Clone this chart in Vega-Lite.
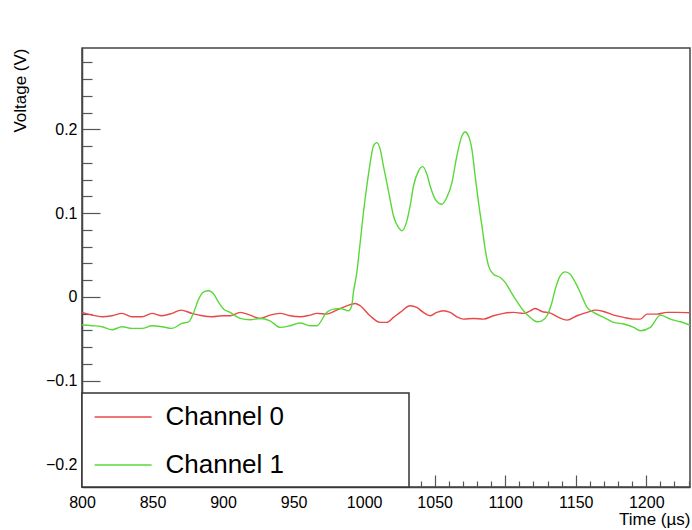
{
  "$schema": "https://vega.github.io/schema/vega-lite/v6.json",
  "width": 608,
  "height": 439,
  "autosize": {"type": "none"},
  "padding": {"left": 82, "top": 48, "right": 2, "bottom": 43},
  "background": "white",
  "config": {"font": "Liberation Sans", "view": {"stroke": "#444", "strokeWidth": 1.5}, "legend": {"strokeWidth": 1.5}},
  "data": {"values": [
    {"ch":"Channel 0","t":800,"v":-0.0186},{"ch":"Channel 0","t":803,"v":-0.020},{"ch":"Channel 0","t":807.1,"v":-0.0218},{"ch":"Channel 0","t":814.2,"v":-0.0238},{"ch":"Channel 0","t":821.3,"v":-0.0226},{"ch":"Channel 0","t":828.4,"v":-0.0198},{"ch":"Channel 0","t":835.5,"v":-0.0238},{"ch":"Channel 0","t":842.6,"v":-0.0238},{"ch":"Channel 0","t":849.6,"v":-0.0198},{"ch":"Channel 0","t":856.7,"v":-0.0226},{"ch":"Channel 0","t":863.8,"v":-0.0198},{"ch":"Channel 0","t":870.2,"v":-0.0159},{"ch":"Channel 0","t":878,"v":-0.0198},{"ch":"Channel 0","t":885.1,"v":-0.0226},{"ch":"Channel 0","t":892.2,"v":-0.0238},{"ch":"Channel 0","t":899.3,"v":-0.0226},{"ch":"Channel 0","t":905,"v":-0.0226},{"ch":"Channel 0","t":912.1,"v":-0.0186},{"ch":"Channel 0","t":919.1,"v":-0.0218},{"ch":"Channel 0","t":926.2,"v":-0.0258},{"ch":"Channel 0","t":933.3,"v":-0.0218},{"ch":"Channel 0","t":940.4,"v":-0.0198},{"ch":"Channel 0","t":947.5,"v":-0.0226},{"ch":"Channel 0","t":954.6,"v":-0.0238},{"ch":"Channel 0","t":961.7,"v":-0.0218},{"ch":"Channel 0","t":966.4,"v":-0.0198},{"ch":"Channel 0","t":973.5,"v":-0.0206},{"ch":"Channel 0","t":980.6,"v":-0.0159},{"ch":"Channel 0","t":987.7,"v":-0.0107},{"ch":"Channel 0","t":993.6,"v":-0.0079},{"ch":"Channel 0","t":997.2,"v":-0.0107},{"ch":"Channel 0","t":1004.2,"v":-0.0226},{"ch":"Channel 0","t":1011.3,"v":-0.0305},{"ch":"Channel 0","t":1016,"v":-0.0305},{"ch":"Channel 0","t":1020.8,"v":-0.0246},{"ch":"Channel 0","t":1025.5,"v":-0.0186},{"ch":"Channel 0","t":1032.6,"v":-0.0107},{"ch":"Channel 0","t":1037.3,"v":-0.0127},{"ch":"Channel 0","t":1042,"v":-0.0186},{"ch":"Channel 0","t":1046.8,"v":-0.0226},{"ch":"Channel 0","t":1051.5,"v":-0.0186},{"ch":"Channel 0","t":1056.2,"v":-0.0167},{"ch":"Channel 0","t":1060.9,"v":-0.0186},{"ch":"Channel 0","t":1065.7,"v":-0.0238},{"ch":"Channel 0","t":1070.4,"v":-0.0266},{"ch":"Channel 0","t":1077.5,"v":-0.0258},{"ch":"Channel 0","t":1084.6,"v":-0.0266},{"ch":"Channel 0","t":1091.7,"v":-0.0226},{"ch":"Channel 0","t":1098.8,"v":-0.0198},{"ch":"Channel 0","t":1105.9,"v":-0.0186},{"ch":"Channel 0","t":1113,"v":-0.0198},{"ch":"Channel 0","t":1117.7,"v":-0.0167},{"ch":"Channel 0","t":1121.3,"v":-0.0139},{"ch":"Channel 0","t":1126,"v":-0.0175},{"ch":"Channel 0","t":1132,"v":-0.0194},{"ch":"Channel 0","t":1137.9,"v":-0.0246},{"ch":"Channel 0","t":1143.8,"v":-0.0278},{"ch":"Channel 0","t":1150.9,"v":-0.0226},{"ch":"Channel 0","t":1158,"v":-0.0186},{"ch":"Channel 0","t":1163.9,"v":-0.0159},{"ch":"Channel 0","t":1169.8,"v":-0.0175},{"ch":"Channel 0","t":1176.9,"v":-0.0218},{"ch":"Channel 0","t":1184,"v":-0.0246},{"ch":"Channel 0","t":1191.1,"v":-0.0266},{"ch":"Channel 0","t":1195.8,"v":-0.0266},{"ch":"Channel 0","t":1200.5,"v":-0.0206},{"ch":"Channel 0","t":1207.6,"v":-0.0206},{"ch":"Channel 0","t":1214.7,"v":-0.0186},{"ch":"Channel 0","t":1221.8,"v":-0.0186},{"ch":"Channel 0","t":1231,"v":-0.019},
    {"ch":"Channel 1","t":800,"v":-0.0337},{"ch":"Channel 1","t":807.1,"v":-0.0345},{"ch":"Channel 1","t":814.2,"v":-0.0357},{"ch":"Channel 1","t":821.3,"v":-0.0393},{"ch":"Channel 1","t":828.4,"v":-0.0357},{"ch":"Channel 1","t":835.5,"v":-0.0377},{"ch":"Channel 1","t":842.6,"v":-0.0377},{"ch":"Channel 1","t":849.6,"v":-0.0345},{"ch":"Channel 1","t":856.7,"v":-0.0357},{"ch":"Channel 1","t":863.8,"v":-0.0377},{"ch":"Channel 1","t":870.9,"v":-0.0317},{"ch":"Channel 1","t":875.6,"v":-0.030},{"ch":"Channel 1","t":879.2,"v":-0.0186},{"ch":"Channel 1","t":882.7,"v":-0.0027},{"ch":"Channel 1","t":886.3,"v":0.006},{"ch":"Channel 1","t":889.8,"v":0.0072},{"ch":"Channel 1","t":893.4,"v":0.0032},{"ch":"Channel 1","t":896.9,"v":-0.0067},{"ch":"Channel 1","t":900.5,"v":-0.0147},{"ch":"Channel 1","t":905,"v":-0.0186},{"ch":"Channel 1","t":912.1,"v":-0.0258},{"ch":"Channel 1","t":919.1,"v":-0.0274},{"ch":"Channel 1","t":926.2,"v":-0.0258},{"ch":"Channel 1","t":933.3,"v":-0.0286},{"ch":"Channel 1","t":940.4,"v":-0.0365},{"ch":"Channel 1","t":947.5,"v":-0.0345},{"ch":"Channel 1","t":954.6,"v":-0.0313},{"ch":"Channel 1","t":961.7,"v":-0.0345},{"ch":"Channel 1","t":966.4,"v":-0.0345},{"ch":"Channel 1","t":973.5,"v":-0.0186},{"ch":"Channel 1","t":978.2,"v":-0.0147},{"ch":"Channel 1","t":983,"v":-0.0139},{"ch":"Channel 1","t":988.9,"v":-0.0167},{"ch":"Channel 1","t":991.2,"v":-0.0107},{"ch":"Channel 1","t":992.4,"v":0.0052},{"ch":"Channel 1","t":994.8,"v":0.029},{"ch":"Channel 1","t":997.2,"v":0.0648},{"ch":"Channel 1","t":999.5,"v":0.1006},{"ch":"Channel 1","t":1001.9,"v":0.1323},{"ch":"Channel 1","t":1004.3,"v":0.160},{"ch":"Channel 1","t":1006.6,"v":0.180},{"ch":"Channel 1","t":1009,"v":0.184},{"ch":"Channel 1","t":1011.4,"v":0.176},{"ch":"Channel 1","t":1013.7,"v":0.156},{"ch":"Channel 1","t":1016.1,"v":0.136},{"ch":"Channel 1","t":1018.4,"v":0.1164},{"ch":"Channel 1","t":1020.8,"v":0.0965},{"ch":"Channel 1","t":1024.4,"v":0.0827},{"ch":"Channel 1","t":1026.7,"v":0.0787},{"ch":"Channel 1","t":1030.3,"v":0.0906},{"ch":"Channel 1","t":1032.6,"v":0.1085},{"ch":"Channel 1","t":1035,"v":0.1323},{"ch":"Channel 1","t":1038.5,"v":0.150},{"ch":"Channel 1","t":1041.6,"v":0.1554},{"ch":"Channel 1","t":1044.5,"v":0.1462},{"ch":"Channel 1","t":1046.8,"v":0.1323},{"ch":"Channel 1","t":1050.4,"v":0.1164},{"ch":"Channel 1","t":1055.1,"v":0.1105},{"ch":"Channel 1","t":1058.6,"v":0.1185},{"ch":"Channel 1","t":1062.2,"v":0.136},{"ch":"Channel 1","t":1065.7,"v":0.168},{"ch":"Channel 1","t":1069.3,"v":0.192},{"ch":"Channel 1","t":1071.6,"v":0.1967},{"ch":"Channel 1","t":1074,"v":0.192},{"ch":"Channel 1","t":1076.4,"v":0.176},{"ch":"Channel 1","t":1078.7,"v":0.1442},{"ch":"Channel 1","t":1081.1,"v":0.1125},{"ch":"Channel 1","t":1083.5,"v":0.0846},{"ch":"Channel 1","t":1085.8,"v":0.0569},{"ch":"Channel 1","t":1088.2,"v":0.037},{"ch":"Channel 1","t":1091.7,"v":0.027},{"ch":"Channel 1","t":1096.5,"v":0.0231},{"ch":"Channel 1","t":1100,"v":0.0172},{"ch":"Channel 1","t":1103.6,"v":0.0072},{"ch":"Channel 1","t":1108.3,"v":-0.0055},{"ch":"Channel 1","t":1113,"v":-0.0167},{"ch":"Channel 1","t":1117.8,"v":-0.0246},{"ch":"Channel 1","t":1122.5,"v":-0.0298},{"ch":"Channel 1","t":1126,"v":-0.0286},{"ch":"Channel 1","t":1129.6,"v":-0.0226},{"ch":"Channel 1","t":1133.1,"v":-0.0067},{"ch":"Channel 1","t":1135.5,"v":0.0092},{"ch":"Channel 1","t":1139,"v":0.025},{"ch":"Channel 1","t":1142.6,"v":0.0298},{"ch":"Channel 1","t":1146.1,"v":0.027},{"ch":"Channel 1","t":1149.7,"v":0.0172},{"ch":"Channel 1","t":1153.2,"v":0.0052},{"ch":"Channel 1","t":1158,"v":-0.0126},{"ch":"Channel 1","t":1162.7,"v":-0.0186},{"ch":"Channel 1","t":1169.8,"v":-0.0246},{"ch":"Channel 1","t":1176.9,"v":-0.0305},{"ch":"Channel 1","t":1184,"v":-0.0325},{"ch":"Channel 1","t":1191.1,"v":-0.0365},{"ch":"Channel 1","t":1195.8,"v":-0.0405},{"ch":"Channel 1","t":1202.9,"v":-0.0365},{"ch":"Channel 1","t":1210,"v":-0.0218},{"ch":"Channel 1","t":1217.1,"v":-0.0266},{"ch":"Channel 1","t":1224.1,"v":-0.0298},{"ch":"Channel 1","t":1231,"v":-0.0337}
  ]},
  "mark": {"type": "line", "strokeWidth": 1.4, "interpolate": "monotone", "clip": true},
  "encoding": {
    "x": {
      "field": "t", "type": "quantitative",
      "scale": {"domain": [800, 1231], "nice": false, "zero": false},
      "axis": {
        "values": [800,810,820,830,840,850,860,870,880,890,900,910,920,930,940,950,960,970,980,990,1000,1010,1020,1030,1040,1050,1060,1070,1080,1090,1100,1110,1120,1130,1140,1150,1160,1170,1180,1190,1200,1210,1220,1230],
        "labelExpr": "datum.value % 50 == 0 ? format(datum.value, 'd') : ''",
        "labelOverlap": false, "labelBound": false, "labelFlush": false,
        "tickSize": {"condition": {"test": "datum.value % 50 == 0", "value": -12}, "value": -6},
        "labelPadding": 19,
        "grid": false,
        "domainColor": "#444", "domainWidth": 1.5,
        "tickColor": "#555", "tickWidth": 1.2,
        "labelFontSize": 16, "labelColor": "black", "labelFont": "Liberation Sans",
        "title": "Time (µs)", "titleFontSize": 17, "titleFontWeight": "normal", "titleColor": "black", "titleFont": "Liberation Sans",
        "titleAlign": "right", "titleX": 608, "titleY": 32, "titleBaseline": "middle"
      }
    },
    "y": {
      "field": "v", "type": "quantitative",
      "scale": {"domain": [-0.227, 0.297], "nice": false, "zero": false},
      "axis": {
        "values": [-0.22,-0.2,-0.18,-0.16,-0.14,-0.12,-0.1,-0.08,-0.06,-0.04,-0.02,0,0.02,0.04,0.06,0.08,0.1,0.12,0.14,0.16,0.18,0.2,0.22,0.24,0.26,0.28],
        "labelExpr": "abs(datum.value*10 - round(datum.value*10)) < 0.001 ? (abs(datum.value) < 0.001 ? '0' : format(datum.value, '.1f')) : ''",
        "labelOverlap": false, "labelBound": false, "labelFlush": false,
        "tickSize": {"condition": {"test": "abs(datum.value*10 - round(datum.value*10)) < 0.001", "value": -18}, "value": -10},
        "labelPadding": 23,
        "grid": false,
        "domainColor": "#444", "domainWidth": 1.5,
        "tickColor": "#555", "tickWidth": 1.2,
        "labelFontSize": 16, "labelColor": "black", "labelFont": "Liberation Sans",
        "title": "Voltage (V)", "titleFontSize": 17, "titleFontWeight": "normal", "titleColor": "black", "titleFont": "Liberation Sans",
        "titleAngle": -90, "titleAlign": "right", "titleX": -62, "titleY": 0, "titleBaseline": "middle"
      }
    },
    "color": {
      "field": "ch", "type": "nominal",
      "scale": {"domain": ["Channel 0", "Channel 1"], "range": ["#e84848", "#5ad83a"]},
      "legend": {
        "title": null, "orient": "none", "legendX": 0, "legendY": 345, "padding": 9,
        "strokeColor": "#333", "fillColor": "white",
        "symbolType": "M-0.8,0H3.2", "symbolSize": 812, "symbolStrokeWidth": 1.3,
        "labelFontSize": 26, "labelColor": "black", "labelFont": "Liberation Sans",
        "labelOffset": 44.5, "labelLimit": 0, "rowPadding": 20,
        "labelExpr": "datum.label + '\u00a0\u00a0\u00a0\u00a0\u00a0\u00a0\u00a0\u00a0\u00a0\u00a0\u00a0\u00a0\u00a0\u00a0\u00a0\u00a0\u200b'"
      }
    }
  }
}
